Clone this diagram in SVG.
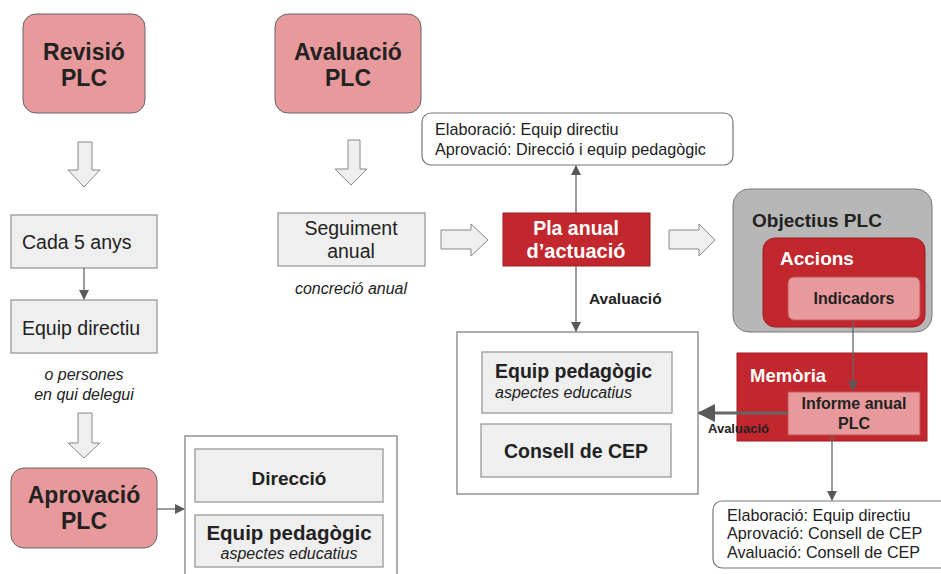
<svg xmlns="http://www.w3.org/2000/svg" width="941" height="574" viewBox="0 0 941 574">
<defs>
<marker id="ah" viewBox="0 0 10 10" refX="9" refY="5" markerWidth="10" markerHeight="10" markerUnits="userSpaceOnUse" orient="auto">
<path d="M0,0 L10,5 L0,10 z" fill="#595959"/>
</marker>
<marker id="ah2" viewBox="0 0 10 10" refX="9" refY="5" markerWidth="6" markerHeight="6" markerUnits="strokeWidth" orient="auto">
<path d="M0,0 L10,5 L0,10 z" fill="#595959"/>
</marker>
<style>
text{font-family:"Liberation Sans",Arial,sans-serif;fill:#222}
.pink{fill:#e8999b;stroke:#666;stroke-width:1}
.grey{fill:#efefef;stroke:#999;stroke-width:1.3}
.red{fill:#c1272d;stroke:#a01f24;stroke-width:1}
.out{fill:#fff;stroke:#777;stroke-width:1.2}
.blk{fill:#efefef;stroke:#888;stroke-width:1}
.t1{font-size:23px;font-weight:bold;text-anchor:middle}
.t2{font-size:19.5px}
.tb{font-size:19.5px;font-weight:bold}
.it{font-size:16px;font-style:italic}
.sm{font-size:16.2px}
.w{fill:#fff}
.con{stroke:#666;stroke-width:1.3;fill:none}
</style>
</defs>

<g id="revisio"><rect class="pink" x="23" y="14" width="122" height="99" rx="13"/>
<text class="t1" x="84" y="60">Revisió</text><text class="t1" x="84" y="86">PLC</text></g>

<g id="avaluacio"><rect class="pink" x="275" y="14" width="146" height="99" rx="13"/>
<text class="t1" x="348" y="60">Avaluació</text><text class="t1" x="348" y="86">PLC</text></g>

<g id="cada5"><rect class="grey" x="11" y="215" width="146" height="53"/>
<text class="t2" x="22" y="249">Cada 5 anys</text></g>

<g id="equipdir"><rect class="grey" x="11" y="300" width="146" height="53"/>
<text class="t2" x="22" y="335">Equip directiu</text>
<text class="it" x="84" y="380" text-anchor="middle">o persones</text>
<text class="it" x="84" y="400" text-anchor="middle">en qui delegui</text></g>

<g id="aprovacio"><rect class="pink" x="11" y="468" width="146" height="80" rx="13"/>
<text class="t1" x="84" y="503">Aprovació</text><text class="t1" x="84" y="529">PLC</text></g>

<g id="aprovbox"><rect class="out" x="185" y="436" width="212" height="150"/>
<rect class="grey" x="195" y="449" width="188" height="53"/>
<text class="tb" x="289" y="485" text-anchor="middle" style="font-size:19px">Direcció</text>
<rect class="grey" x="195" y="515" width="188" height="52"/>
<text class="tb" x="289" y="540" text-anchor="middle" style="font-size:20.5px">Equip pedagògic</text>
<text class="it" x="289" y="559" text-anchor="middle">aspectes educatius</text></g>

<g id="seguiment"><rect class="grey" x="278" y="213" width="147" height="53"/>
<text class="t2" x="351" y="235" text-anchor="middle">Seguiment</text>
<text class="t2" x="351" y="258" text-anchor="middle">anual</text>
<text class="it" x="351" y="294" text-anchor="middle">concreció anual</text></g>

<g id="elabtop"><rect class="out" x="422" y="113" width="311" height="52" rx="9"/>
<text class="sm" x="435" y="135">Elaboració: Equip directiu</text>
<text class="sm" x="435" y="155">Aprovació: Direcció i equip pedagògic</text></g>

<g id="pla"><rect class="red" x="503" y="213" width="147" height="53"/>
<text class="tb w" x="576" y="235" text-anchor="middle" style="font-size:19.5px">Pla anual</text>
<text class="tb w" x="576" y="258" text-anchor="middle" style="font-size:20px">d’actuació</text></g>

<g id="objectius"><rect x="733" y="189" width="199" height="143" rx="16" fill="#b7b7b7" stroke="#777" stroke-width="1"/>
<text class="tb" x="752" y="227" style="font-size:19px">Objectius PLC</text>
<rect class="red" x="763" y="238" width="162" height="89" rx="12"/>
<text class="tb w" x="780" y="265" style="font-size:19px">Accions</text>
<rect x="788" y="277" width="132" height="43" rx="6" fill="#e8999b" stroke="#b55" stroke-width="1"/>
<text x="854" y="304" text-anchor="middle" style="font-size:16px;font-weight:bold">Indicadors</text></g>

<g id="evalbox"><rect class="out" x="457" y="332" width="241" height="162"/>
<rect class="grey" x="482" y="352" width="190" height="61"/>
<text class="tb" x="495" y="378">Equip pedagògic</text>
<text class="it" x="495" y="398">aspectes educatius</text>
<rect class="grey" x="481" y="424" width="190" height="53"/>
<text class="tb" x="576" y="458" text-anchor="middle">Consell de CEP</text></g>

<g id="memoria"><rect class="red" x="737" y="353" width="190" height="88"/>
<text class="tb w" x="750" y="382" style="font-size:18.5px">Memòria</text>
<rect x="788" y="392" width="132" height="43" fill="#e8999b" stroke="#b55" stroke-width="1"/>
<text x="854" y="409" text-anchor="middle" style="font-size:16px;font-weight:bold">Informe anual</text>
<text x="854" y="429" text-anchor="middle" style="font-size:16px;font-weight:bold">PLC</text></g>

<g id="elabbottom"><rect class="out" x="713" y="501" width="240" height="67" rx="9"/>
<text class="sm" x="727" y="521">Elaboració: Equip directiu</text>
<text class="sm" x="727" y="539">Aprovació: Consell de CEP</text>
<text class="sm" x="727" y="558">Avaluació: Consell de CEP</text></g>

<g id="connectors">
<path class="blk" d="M78,142 H92 V170 H100 L84,187 L68,170 H78 Z"/>
<path class="blk" d="M348,140 H360 V169 H367 L351,185 L335,169 H348 Z"/>
<path class="blk" d="M78,413 H92 V443 H100 L84,458 L68,443 H78 Z"/>
<path class="blk" d="M441,230 H471 V224 L488,240 L471,256 V249 H441 Z"/>
<path class="blk" d="M669,230 H699 V224 L715,240 L699,256 V249 H669 Z"/>
<line class="con" x1="84" y1="268" x2="84" y2="299" marker-end="url(#ah)"/>
<line class="con" x1="157" y1="509" x2="184" y2="509" marker-end="url(#ah)"/>
<line class="con" x1="576" y1="213" x2="576" y2="166" marker-end="url(#ah)"/>
<line class="con" x1="576" y1="266" x2="576" y2="331" marker-end="url(#ah)"/>
<line class="con" x1="853" y1="320" x2="853" y2="390" marker-end="url(#ah)"/>
<line x1="788" y1="413" x2="699" y2="413" stroke="#666" stroke-width="3" marker-end="url(#ah2)"/>
<line class="con" x1="832" y1="435" x2="832" y2="500" marker-end="url(#ah)"/>
<text x="589" y="304" style="font-size:15.5px;font-weight:bold">Avaluació</text>
<text x="708" y="433" style="font-size:13px;font-weight:bold">Avaluació</text>
</g>
</svg>
